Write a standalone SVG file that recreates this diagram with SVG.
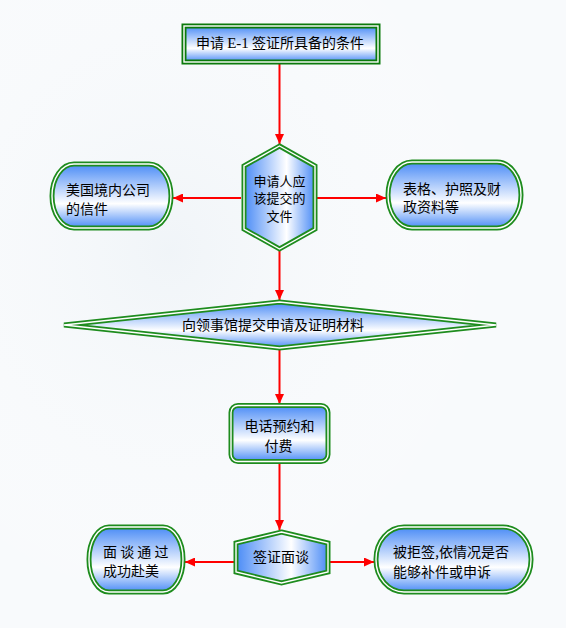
<svg xmlns="http://www.w3.org/2000/svg" width="566" height="628" viewBox="0 0 566 628">
  <defs>
    <linearGradient id="gv" x1="0" y1="0" x2="0" y2="1">
      <stop offset="0" stop-color="#4a8bf6"/>
      <stop offset="0.62" stop-color="#ffffff"/>
      <stop offset="1" stop-color="#4a8bf6"/>
    </linearGradient>
    <linearGradient id="gh" x1="0" y1="0" x2="1" y2="0">
      <stop offset="0" stop-color="#4a8bf6"/>
      <stop offset="0.6" stop-color="#ffffff"/>
      <stop offset="1" stop-color="#4a8bf6"/>
    </linearGradient>
    <radialGradient id="bg1" cx="0.3" cy="0.4" r="0.6">
      <stop offset="0" stop-color="#eef3f7" stop-opacity="0.8"/>
      <stop offset="1" stop-color="#ffffff" stop-opacity="0"/>
    </radialGradient>
    <marker id="arr" markerUnits="userSpaceOnUse" markerWidth="11" markerHeight="9" refX="10" refY="4.5" orient="auto">
      <path d="M0,0 L10,4.5 L0,9 z" fill="#ff0000"/>
    </marker>
  </defs>
  <style>
    .edge { stroke: #ff0000; stroke-width: 2; fill: none; marker-end: url(#arr); }
    .outer { stroke: #1e8c1e; stroke-width: 5; stroke-linejoin: miter; }
    .gap { stroke: #ffffff; stroke-width: 1.4; fill: none; }
    .fv { fill: url(#gv); }
    .fh { fill: url(#gh); }
    text { font-family: "Noto Sans CJK SC", "Noto Sans", sans-serif; font-size: 14px; fill: #000000; }
    .c { text-anchor: middle; }
    .sm { font-size: 13px; }
  </style>

  <rect x="0" y="0" width="566" height="628" fill="#f8fafc"/>
  <rect x="0" y="0" width="566" height="628" fill="url(#bg1)"/>

  <g id="connectors">
    <line class="edge" x1="279.5" y1="64" x2="279.5" y2="144"/>
    <line class="edge" x1="241" y1="198" x2="173" y2="198"/>
    <line class="edge" x1="317" y1="198" x2="386" y2="198"/>
    <line class="edge" x1="279.5" y1="251" x2="279.5" y2="300"/>
    <line class="edge" x1="279.5" y1="350" x2="279.5" y2="404"/>
    <line class="edge" x1="279.5" y1="463" x2="279.5" y2="530"/>
    <line class="edge" x1="234" y1="562" x2="185" y2="562"/>
    <line class="edge" x1="330" y1="562" x2="374" y2="562"/>
  </g>

  <g id="n-title">
    <rect class="outer fv" x="184" y="26" width="194" height="36" style="stroke:#0b7a0b"/>
    <rect class="gap" x="184" y="26" width="194" height="36"/>
    <text x="280" y="47.5" class="c">申请 <tspan font-family="Liberation Serif, serif" font-size="15px">E-1</tspan> 签证所具备的条件</text>
  </g>

  <g id="n-docs">
    <polygon class="outer fh" points="279.5,146 315,166 315,229 279.5,249 244,229 244,166"/>
    <polygon class="gap" points="279.5,146 315,166 315,229 279.5,249 244,229 244,166"/>
    <text x="279.5" y="185.5" class="c sm">申请人应</text>
    <text x="279.5" y="203" class="c sm">该提交的</text>
    <text x="279.5" y="220.5" class="c sm">文件</text>
  </g>

  <g id="n-letter">
    <rect class="outer fv" x="52" y="164" width="119" height="64" rx="22" ry="32"/>
    <rect class="gap" x="52" y="164" width="119" height="64" rx="22" ry="32"/>
    <text x="66" y="195">美国境内公司</text>
    <text x="66" y="213.5">的信件</text>
  </g>

  <g id="n-forms">
    <rect class="outer fv" x="388" y="162" width="133" height="66" rx="24" ry="33"/>
    <rect class="gap" x="388" y="162" width="133" height="66" rx="24" ry="33"/>
    <text x="403" y="193.5">表格、护照及财</text>
    <text x="403" y="212">政资料等</text>
  </g>

  <g id="n-submit">
    <polygon class="outer fv" points="64,325 279.5,302 496,325 279.5,348"/>
    <polygon class="gap" points="64,325 279.5,302 496,325 279.5,348"/>
    <text x="273" y="330" class="c">向领事馆提交申请及证明材料</text>
  </g>

  <g id="n-phone">
    <rect class="outer fv" x="231" y="405.5" width="97" height="56" rx="7" ry="7"/>
    <rect class="gap" x="231" y="405.5" width="97" height="56" rx="7" ry="7"/>
    <text x="279.5" y="430.5" class="c">电话预约和</text>
    <text x="278.5" y="451" class="c">付费</text>
  </g>

  <g id="n-interview">
    <polygon class="outer fh" points="281.5,532 328,543 328,572 281.5,583 236,572 236,543"/>
    <polygon class="gap" points="281.5,532 328,543 328,572 281.5,583 236,572 236,543"/>
    <text x="281" y="562" class="c">签证面谈</text>
  </g>

  <g id="n-pass">
    <rect class="outer fv" x="89" y="527" width="94" height="65" rx="20" ry="32"/>
    <rect class="gap" x="89" y="527" width="94" height="65" rx="20" ry="32"/>
    <text x="103" y="557">面 谈 通 过</text>
    <text x="103" y="576">成功赴美</text>
  </g>

  <g id="n-refused">
    <rect class="outer fv" x="376" y="527" width="155" height="65" rx="28" ry="32"/>
    <rect class="gap" x="376" y="527" width="155" height="65" rx="28" ry="32"/>
    <text x="393" y="557">被拒签,依情况是否</text>
    <text x="393" y="577">能够补件或申诉</text>
  </g>
</svg>
